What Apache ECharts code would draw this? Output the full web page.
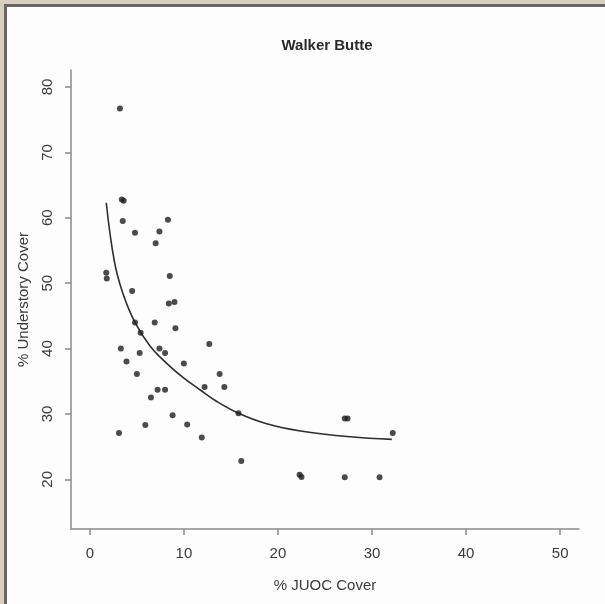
<!DOCTYPE html>
<html>
<head>
<meta charset="utf-8">
<script src="https://cdn.jsdelivr.net/npm/echarts@6/dist/echarts.min.js"></script>
<style>
  html, body { margin: 0; padding: 0; background: #d8cfc1; }
  #frame {
    position: absolute; left: 4px; top: 4px; width: 605px; height: 604px;
    background: #fdfdfd; border-left: 3px solid #666; border-top: 3px solid #666;
  }
  #chart { position: absolute; left: 0; top: 0; width: 605px; height: 604px; }
</style>
</head>
<body>
<div id="frame"></div>
<div id="chart"></div>
<script>
// observed points: % JUOC cover vs % understory cover
const juocCover = [3.2, 3.4, 3.6, 3.5, 4.8, 8.3, 7.4, 7.0, 1.75, 1.8, 8.5, 4.5, 8.4, 9.0, 4.8, 6.9,
  5.4, 9.1, 3.3, 7.4, 8.0, 5.3, 3.9, 10.0, 12.7, 5.0, 13.8, 12.2, 14.3, 7.2, 8.0, 6.5, 15.8, 8.8,
  10.35, 5.9, 11.9, 3.1, 16.1, 27.1, 27.4, 32.2, 22.3, 22.5, 27.1, 30.8]
const understory = [76.7, 62.8, 62.6, 59.5, 57.7, 59.7, 57.9, 56.1, 51.6, 50.7, 51.1, 48.8, 46.9, 47.1, 44.0, 44.0,
  42.4, 43.1, 40.0, 40.0, 39.3, 39.3, 38.0, 37.7, 40.7, 36.1, 36.1, 34.1, 34.1, 33.7, 33.7, 32.5, 30.1, 29.8,
  28.4, 28.3, 26.4, 27.1, 22.8, 29.3, 29.3, 27.1, 20.7, 20.35, 20.3, 20.3]

// fitted curve
const fitX = [1.75, 2.6, 3.5, 4.8, 6.4, 8.2, 9.9, 11.7, 13.5, 15.8, 18.8, 22.4, 27.7, 32.1]
const fitY = [62.3, 53.4, 48.5, 44.0, 40.4, 37.7, 35.6, 33.7, 31.9, 30.1, 28.5, 27.4, 26.5, 26.1]

const xTicks = [0, 10, 20, 30, 40, 50]
const yTicks = [20, 30, 40, 50, 60, 70, 80]

const chart = echarts.init(document.getElementById('chart'))
const font = 'Liberation Sans, Arial, sans-serif'
const axisGray = '#8a8a8a'

const points = juocCover.map((x, i) => [x, understory[i]])
const fit = fitX.map((x, i) => [x, fitY[i]])

const option = {
  animation: false,
  title: {
    text: 'Walker Butte',
    left: 322,
    textAlign: 'center',
    top: 33,
    textStyle: { fontFamily: font, fontSize: 15, fontWeight: 'bold', color: '#2a2a2a' }
  },
  grid: { left: 71, right: 26, top: 70, bottom: 75 },
  xAxis: {
    type: 'value',
    min: -2,
    max: 52,
    name: '% JUOC Cover',
    nameLocation: 'middle',
    nameGap: 49,
    nameTextStyle: { fontFamily: font, fontSize: 15, color: '#3a3a3a' },
    axisLine: { show: true, onZero: false, lineStyle: { color: axisGray, width: 1.5 } },
    axisTick: { show: true, customValues: xTicks, length: 6, lineStyle: { color: axisGray, width: 1.5 } },
    axisLabel: { customValues: xTicks, margin: 17, fontFamily: font, fontSize: 15, color: '#3a3a3a' },
    splitLine: { show: false }
  },
  yAxis: {
    type: 'value',
    min: 12.4,
    max: 82.6,
    name: '% Understory Cover',
    nameLocation: 'middle',
    nameGap: 40,
    nameTextStyle: { fontFamily: font, fontSize: 15, color: '#3a3a3a' },
    axisLine: { show: true, onZero: false, lineStyle: { color: axisGray, width: 1.5 } },
    axisTick: { show: true, customValues: yTicks, length: 6, lineStyle: { color: axisGray, width: 1.5 } },
    axisLabel: { customValues: yTicks, rotate: 90, margin: 16, fontFamily: font, fontSize: 15, color: '#3a3a3a' },
    splitLine: { show: false }
  },
  series: [
    {
      name: 'fit',
      type: 'line',
      data: fit,
      smooth: 0.4,
      symbol: 'none',
      lineStyle: { color: '#2e2e2e', width: 1.6 },
      z: 2
    },
    {
      name: 'sites',
      type: 'scatter',
      data: points,
      symbolSize: 6,
      itemStyle: { color: '#1e1e1e' },
      z: 3
    }
  ]
}
chart.setOption(option)
window.addEventListener('resize', function () {
  chart.resize()
})
</script>
</body>
</html>
